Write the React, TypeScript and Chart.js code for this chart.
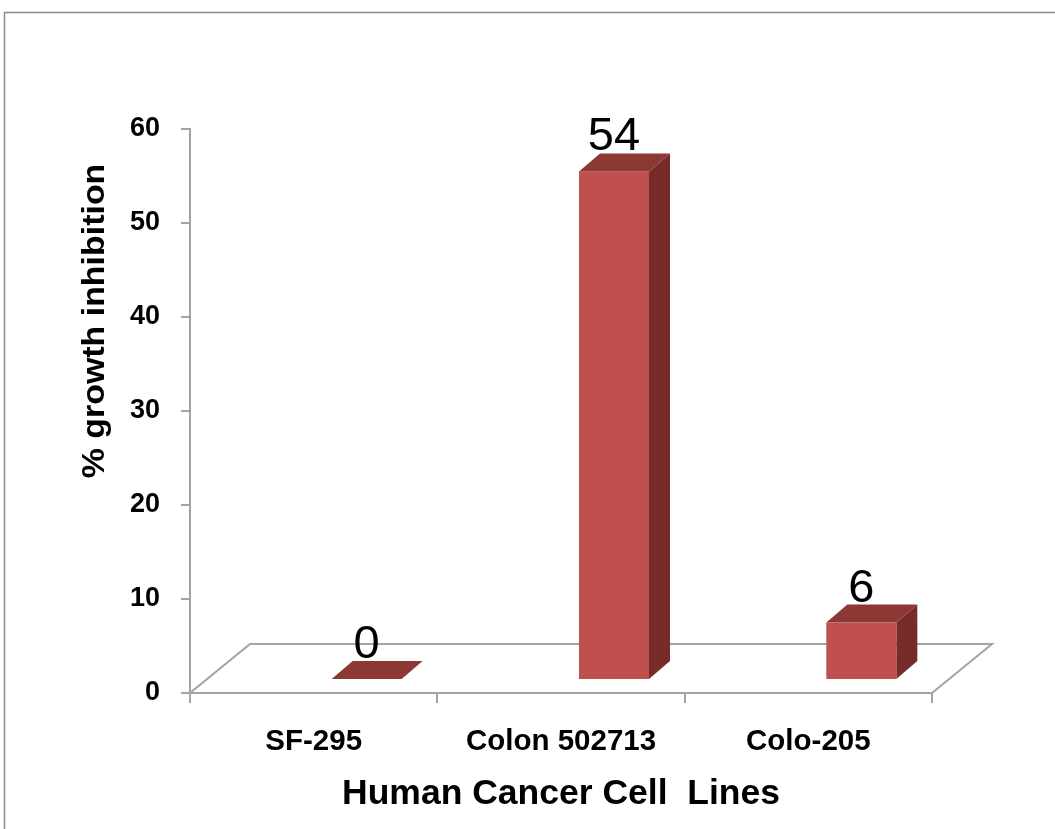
import React, { useEffect, useRef } from "react";
import { Chart, registerables } from "chart.js";

Chart.register(...registerables);

// ---- data ----
const categories = ["SF-295", "Colon 502713", "Colo-205"];
const inhibition = [0, 54, 6];
const yTicks = [0, 10, 20, 30, 40, 50, 60];
const xTitle = "Human Cancer Cell  Lines";
const yTitle = "% growth inhibition";

// ---- style ----
const FONT = "'Liberation Sans', Arial, Helvetica, sans-serif";
const AXIS_GRAY = "#a3a3a3";
const FRONT = "#C0504D";
const TOP = "#8E3836";
const SIDE = "#772C2A";
const FLOOR_DX = 60;
const FLOOR_DY = 49;
const BAR_SHIFT_X = 53;
const BAR_HALF_W = 35;
const BAR_LIFT = 14;
const BAR_DX = 21;
const BAR_DY = 18;

const bar3dPlugin = {
  id: "bar3d",
  beforeDraw(chart: any) {
    const ctx = chart.ctx;
    ctx.save();
    ctx.fillStyle = "#ffffff";
    ctx.fillRect(0, 0, chart.width, chart.height);
    ctx.strokeStyle = "#8c8c8c";
    ctx.lineWidth = 1.5;
    ctx.strokeRect(4.5, 12.5, chart.width + 50, chart.height + 50);
    ctx.restore();
  },
  beforeDatasetsDraw(chart: any) {
    const ctx = chart.ctx;
    const xs = chart.scales.x;
    const ys = chart.scales.y;
    const y0 = ys.getPixelForValue(0);
    const L = xs.left;
    const R = xs.right;
    ctx.save();
    ctx.strokeStyle = AXIS_GRAY;
    ctx.lineWidth = 2;
    ctx.beginPath();
    ctx.moveTo(L, y0);
    ctx.lineTo(L + FLOOR_DX, y0 - FLOOR_DY);
    ctx.lineTo(R + FLOOR_DX, y0 - FLOOR_DY);
    ctx.lineTo(R, y0);
    ctx.stroke();
    ctx.restore();
  },
  afterDatasetsDraw(chart: any) {
    const ctx = chart.ctx;
    const xs = chart.scales.x;
    const ys = chart.scales.y;
    ctx.save();
    inhibition.forEach((v, i) => {
      const cx = xs.getPixelForValue(i) + BAR_SHIFT_X;
      const fl = cx - BAR_HALF_W;
      const fr = cx + BAR_HALF_W;
      const fb = ys.getPixelForValue(0) - BAR_LIFT;
      const ft = ys.getPixelForValue(v) - BAR_LIFT;
      // side face
      ctx.fillStyle = SIDE;
      ctx.beginPath();
      ctx.moveTo(fr, ft);
      ctx.lineTo(fr + BAR_DX, ft - BAR_DY);
      ctx.lineTo(fr + BAR_DX, fb - BAR_DY);
      ctx.lineTo(fr, fb);
      ctx.closePath();
      ctx.fill();
      // front face
      if (fb - ft > 0.5) {
        ctx.fillStyle = FRONT;
        ctx.fillRect(fl, ft, fr - fl, fb - ft);
      }
      // top face
      ctx.fillStyle = TOP;
      ctx.beginPath();
      ctx.moveTo(fl, ft);
      ctx.lineTo(fl + BAR_DX, ft - BAR_DY);
      ctx.lineTo(fr + BAR_DX, ft - BAR_DY);
      ctx.lineTo(fr, ft);
      ctx.closePath();
      ctx.fill();
      // value label
      ctx.fillStyle = "#000";
      ctx.font = `47px ${FONT}`;
      ctx.textAlign = "center";
      ctx.textBaseline = "alphabetic";
      ctx.fillText(String(v), cx, ft - BAR_DY - 3);
    });
    ctx.restore();
  },
  afterDraw(chart: any) {
    const ctx = chart.ctx;
    ctx.save();
    ctx.translate(104, 321);
    ctx.rotate(-Math.PI / 2);
    ctx.fillStyle = "#000";
    ctx.font = `bold 32px ${FONT}`;
    ctx.textAlign = "center";
    ctx.textBaseline = "alphabetic";
    ctx.scale(1.06, 1);
    ctx.fillText(yTitle, 0, 0);
    ctx.restore();
  },
};

export default function App() {
  const ref = useRef<HTMLCanvasElement>(null);
  useEffect(() => {
    const chart = new Chart(ref.current as HTMLCanvasElement, {
      type: "bar",
      data: {
        labels: categories,
        datasets: [
          {
            label: "% growth inhibition",
            data: inhibition,
            backgroundColor: "rgba(0,0,0,0)",
            borderWidth: 0,
          },
        ],
      },
      options: {
        responsive: true,
        maintainAspectRatio: false,
        animation: false,
        layout: { padding: { left: 0, top: 129, right: 123, bottom: 0 } },
        plugins: {
          legend: { display: false },
          tooltip: { enabled: false },
        },
        scales: {
          x: {
            type: "category",
            offset: true,
            grid: {
              display: true,
              drawOnChartArea: false,
              drawTicks: true,
              tickLength: 10,
              color: AXIS_GRAY,
              lineWidth: 2,
              offset: true,
            },
            border: { display: true, color: AXIS_GRAY, width: 2 },
            ticks: {
              color: "#000",
              font: { family: FONT, size: 29.5, weight: "bold" },
              padding: 21,
              maxRotation: 0,
              autoSkip: false,
            },
            title: {
              display: true,
              text: xTitle,
              color: "#000",
              font: { family: FONT, size: 35.5, weight: "bold" },
              padding: { top: 0, bottom: 13 },
            },
            afterFit: (s: any) => {
              s.height = 136;
            },
          },
          y: {
            min: 0,
            max: 60,
            afterBuildTicks: (s: any) => {
              s.ticks = yTicks.map((v) => ({ value: v }));
            },
            ticks: {
              color: "#000",
              font: { family: FONT, size: 27, weight: "bold" },
              padding: 21,
            },
            grid: {
              drawOnChartArea: false,
              tickLength: 9,
              color: AXIS_GRAY,
              lineWidth: 2,
            },
            border: { display: true, color: AXIS_GRAY, width: 2 },
            afterFit: (s: any) => {
              s.width = 190;
            },
          },
        },
      } as any,
      plugins: [bar3dPlugin],
    });
    return () => chart.destroy();
  }, []);
  return (
    <div
      style={{
        position: "fixed",
        left: 0,
        top: 0,
        width: 1055,
        height: 829,
        background: "#fff",
      }}
    >
      <canvas ref={ref} />
    </div>
  );
}
